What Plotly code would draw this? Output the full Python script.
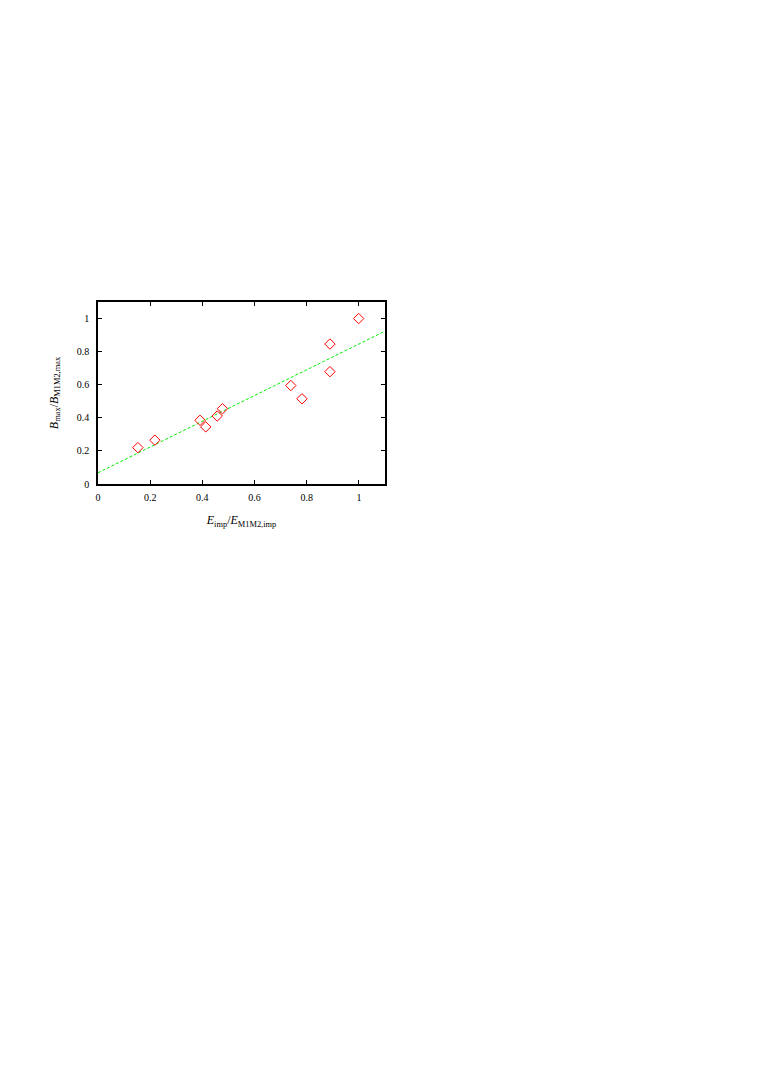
import numpy as np
import plotly.graph_objects as go

e_imp = [0.153, 0.218, 0.391, 0.413, 0.457, 0.477, 0.739, 0.782, 0.889, 0.889, 0.999]
b_max = [0.220, 0.265, 0.385, 0.345, 0.411, 0.455, 0.595, 0.515, 0.846, 0.679, 1.000]

# linear fit shown as green dashed line
fit_intercept = 0.068
fit_slope = 0.778
fit_x = [0.0, 1.1]

tick_vals = [0, 0.2, 0.4, 0.6, 0.8, 1]
tick_text = ["0", "0.2", "0.4", "0.6", "0.8", "1"]

serif = "Liberation Serif, DejaVu Serif, serif"

fig = go.Figure()

fit_y = [fit_intercept + fit_slope * x for x in fit_x]
fig.add_trace(go.Scatter(
    x=fit_x, y=fit_y, mode="lines",
    line=dict(color="#00ee00", width=1, dash="3px,2px"),
    showlegend=False,
))

fig.add_trace(go.Scatter(
    x=e_imp, y=b_max, mode="markers",
    marker=dict(symbol="diamond-open", size=8, color="#ff0000", line=dict(width=1)),
    showlegend=False,
))

axis_common = dict(
    range=[0, 1.1],
    tickvals=tick_vals,
    ticktext=tick_text,
    ticks="inside",
    ticklen=4,
    tickwidth=1,
    tickcolor="black",
    showline=True,
    linecolor="black",
    linewidth=1.5,
    mirror="ticks",
    showgrid=False,
    zeroline=False,
    tickfont=dict(family=serif, size=10, color="black"),
)

fig.update_xaxes(
    **axis_common,
    ticklabelstandoff=3,
    title=dict(text="<i>E</i><sub>imp</sub>/<i>E</i><sub>M1M2,imp</sub>",
               font=dict(family=serif, size=12, color="black"), standoff=14),
)
fig.update_yaxes(
    **axis_common,
    ticklabelstandoff=5,
    title=dict(text="<i>B</i><sub>max</sub>/<i>B</i><sub>M1M2,max</sub>",
               font=dict(family=serif, size=12, color="black"), standoff=16),
)

# page body has an 8px margin, so offsets are shifted accordingly
fig.update_layout(
    width=764,
    height=1079,
    margin=dict(l=89.5, r=386.7, t=293.7, b=602.7),
    plot_bgcolor="white",
    paper_bgcolor="white",
)

fig.write_html("out.html")
